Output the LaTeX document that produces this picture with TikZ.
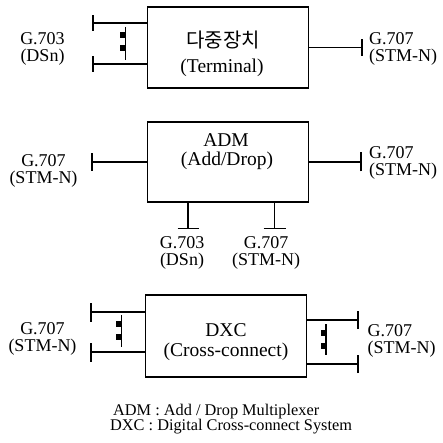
\documentclass[tikz,border=0pt]{standalone}
\usepackage{fontspec}
\setmainfont{Liberation Serif}
\newfontfamily\krfont{Noto Sans CJK KR}
\begin{document}
\begin{tikzpicture}[x=1pt,y=-1pt,
  box/.style={draw, line width=1.5pt, inner sep=0pt, outer sep=0pt},
  ln/.style={line width=1.8pt},
  tickln/.style={line width=1.8pt},
  squig/.pic={
    \draw[line width=1.5pt] (0,0) -- (0,#1);
    \fill (-5.2,5.5) rectangle (0.75,11.5);
    \fill (-5.2,18.5) rectangle (0.75,24.5);
  },
  lbl/.style={inner sep=0pt, align=center, font=\fontsize{18}{16.5}\selectfont},
  lblr/.style={inner sep=0pt, align=left, anchor=west, font=\fontsize{18}{16.5}\selectfont},
  btxt/.style={inner sep=0pt, anchor=base, font=\fontsize{19.5}{20}\selectfont},
  foot/.style={inner sep=0pt, anchor=base west, font=\fontsize{16.3}{16}\selectfont}]
\useasboundingbox (0,0) rectangle (443,443);
\fill[white] (0,0) rectangle (443,443);

% ---------- Terminal ----------
\node[box, minimum width=161pt, minimum height=81pt] (term) at (228,47.5) {};
\node[btxt, font=\krfont\fontsize{20}{20}\selectfont] (termk) at (223,48) {다중장치};
\node[btxt] (terme) at (222,73) {(Terminal)};
\coordinate (t1) at (93,23);
\coordinate (t2) at (93,64);
\coordinate (t3) at (362,47.5);
\draw[ln] (t1) -- (term.west |- t1);
\draw[ln] (t2) -- (term.west |- t2);
\draw[ln] (term.east |- t3) -- (t3);
\draw[tickln] ([yshift=-8]t1) -- ([yshift=8]t1);
\draw[tickln] ([yshift=-8]t2) -- ([yshift=8]t2);
\draw[tickln] ([yshift=-8.5]t3) -- ([yshift=8.5]t3);
\pic at (125.5,27) {squig=33};
\node[lbl] (tl) at (42.5,49) {G.703\\(DSn)};
\node[lblr] (tr) at (369,49) {G.707\\(STM-N)};

% ---------- ADM ----------
\node[box, minimum width=161pt, minimum height=80pt] (adm) at (228,162) {};
\node[btxt] (adma) at (226,147) {ADM};
\node[btxt] (admb) at (227,166) {(Add/Drop)};
\coordinate (a1) at (92,162);
\coordinate (a2) at (361,162);
\coordinate (a3) at (188,228.5);
\coordinate (a4) at (274.5,228.5);
\draw[ln] (a1) -- (adm.west |- a1);
\draw[ln] (adm.east |- a2) -- (a2);
\draw[ln] (adm.south -| a3) -- (a3);
\draw[ln] (adm.south -| a4) -- (a4);
\draw[tickln] ([yshift=-9]a1) -- ([yshift=9]a1);
\draw[tickln] ([yshift=-9.5]a2) -- ([yshift=9.5]a2);
\draw[tickln] ([xshift=-10.5]a3) -- ([xshift=10.5]a3);
\draw[tickln] ([xshift=-11]a4) -- ([xshift=11]a4);
\node[lbl] (al) at (43.5,171) {G.707\\(STM-N)};
\node[lblr] (ar) at (369,163) {G.707\\(STM-N)};
\node[lbl] (ab1) at (182,253) {G.703\\(DSn)};
\node[lbl] (ab2) at (266,253) {G.707\\(STM-N)};

% ---------- DXC ----------
\node[box, minimum width=161pt, minimum height=82pt] (dxc) at (226,336) {};
\node[btxt] (dxca) at (226,336.5) {DXC};
\node[btxt] (dxcb) at (226,356) {(Cross-connect)};
\coordinate (d1) at (91,312);
\coordinate (d2) at (91,352);
\coordinate (d3) at (358,320);
\coordinate (d4) at (358,364);
\draw[ln] (d1) -- (dxc.west |- d1);
\draw[ln] (d2) -- (dxc.west |- d2);
\draw[ln] (dxc.east |- d3) -- (d3);
\draw[ln] (dxc.east |- d4) -- (d4);
\draw[tickln] ([yshift=-9.5]d1) -- ([yshift=9.5]d1);
\draw[tickln] ([yshift=-9.5]d2) -- ([yshift=9.5]d2);
\draw[tickln] ([yshift=-9]d3) -- ([yshift=9]d3);
\draw[tickln] ([yshift=-9]d4) -- ([yshift=9]d4);
\pic at (121.5,315) {squig=32};
\pic at (326,324) {squig=31};
\node[lbl] (dl) at (42.5,339) {G.707\\(STM-N)};
\node[lblr] (dr) at (367.5,341) {G.707\\(STM-N)};

% ---------- footer ----------
\node[foot] (f1) at (113,415) {ADM : Add / Drop Multiplexer};
\node[foot] (f2) at (110,430) {DXC : Digital Cross-connect System};
\end{tikzpicture}
\end{document}
